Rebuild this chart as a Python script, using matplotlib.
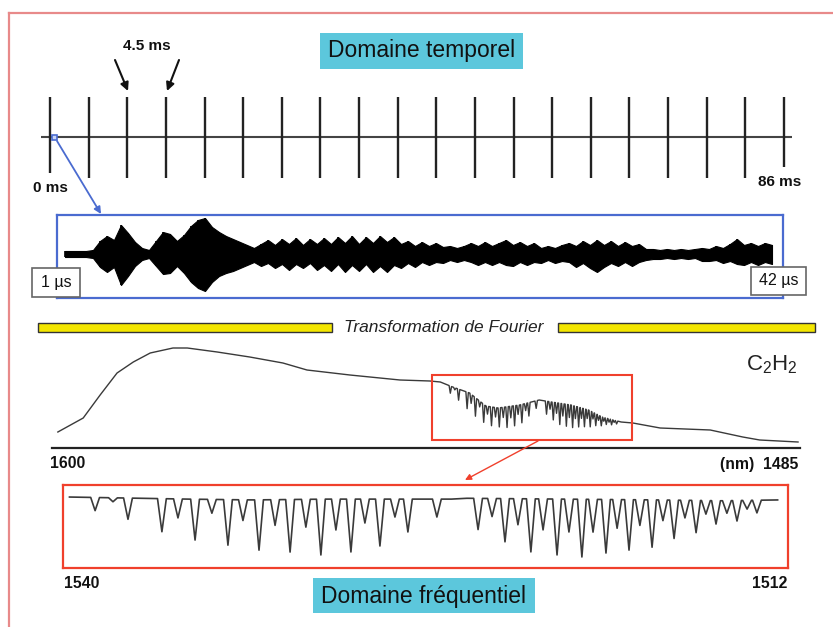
import numpy as np
import matplotlib
matplotlib.use("Agg")
import matplotlib.pyplot as plt
from matplotlib.patches import Rectangle

plt.rcParams['font.family'] = ['Liberation Sans', 'DejaVu Sans']
plt.rcParams['mathtext.fontset'] = 'custom'
plt.rcParams['mathtext.rm'] = 'Liberation Sans'
plt.rcParams['mathtext.it'] = 'Liberation Sans:italic'

# ---------------- data ----------------
pulse_times_ms = [0, 4.5, 9, 13.5, 18, 22.5, 27, 31.5, 36, 40.5,
                  45, 49.5, 54, 58.5, 63, 67.5, 72, 76.5, 81, 85.5]
pulse_period_label = "4.5 ms"
time_start_label = "0 ms"
time_end_label = "86 ms"

interf_t0_us, interf_t1_us = 1, 42
interf_top = [3, 3, 3, 3, 4, 13, 18, 14, 29, 21, 12, 6, 4, 13, 22, 20, 13, 19, 28, 34,
              36, 27, 22, 18, 15, 12, 9, 6, 10, 14, 9, 15, 10, 16, 9, 15, 10, 16, 10, 17,
              11, 18, 10, 17, 11, 18, 12, 17, 10, 13, 8, 12, 8, 11, 7, 8, 6, 8, 11, 8,
              12, 8, 11, 14, 9, 12, 8, 11, 6, 8, 6, 9, 11, 8, 13, 9, 14, 9, 13, 8,
              12, 8, 10, 5, 5, 4, 5, 4, 5, 4, 5, 6, 5, 8, 6, 10, 15, 9, 11, 8, 11, 9]
interf_bot = [3, 3, 3, 3, 4, 13, 18, 13, 31, 22, 12, 6, 4, 12, 20, 19, 12, 19, 28, 34,
              37, 28, 22, 19, 17, 14, 11, 8, 12, 9, 14, 10, 16, 10, 14, 9, 16, 11, 17, 10,
              18, 11, 17, 10, 18, 12, 18, 11, 14, 9, 13, 8, 11, 8, 9, 6, 8, 6, 8, 11,
              8, 11, 8, 11, 12, 8, 11, 8, 9, 6, 9, 7, 8, 13, 9, 14, 18, 13, 9, 12,
              8, 12, 8, 6, 5, 5, 4, 5, 4, 5, 4, 7, 7, 6, 9, 7, 10, 11, 8, 11, 8, 10]
interf_labels = ["1 µs", "42 µs"]

spec_wl_range = (1600, 1485)
base_wl = [1599.1, 1595.2, 1592.6, 1590.0, 1587.5, 1584.9, 1581.4, 1579.2, 1574.6,
           1569.6, 1564.5, 1560.8, 1554.2, 1546.5, 1541.9, 1540.3, 1538.4, 1535.8,
           1533.3, 1531.4, 1528.1, 1525.1, 1523.2, 1520.2, 1517.5, 1515.4, 1512.5,
           1510.7, 1506.5, 1498.8, 1493.8, 1491.2, 1485.3]
base_I = [0.16, 0.30, 0.53, 0.75, 0.86, 0.95, 1.00, 1.00, 0.96, 0.91, 0.85, 0.78, 0.73,
          0.68, 0.67, 0.66, 0.61, 0.55, 0.42, 0.40, 0.43, 0.48, 0.46, 0.43, 0.38, 0.31,
          0.26, 0.25, 0.20, 0.18, 0.11, 0.08, 0.06]

zoom_wl_range = (1540, 1512)
line_wl = [1538.76, 1538.07, 1537.49, 1536.18, 1535.56, 1534.90, 1534.25, 1533.63,
           1533.05, 1532.43, 1531.81, 1531.23, 1530.62, 1530.04, 1529.46, 1528.88,
           1528.34, 1527.76, 1527.18, 1526.68, 1525.56, 1523.97, 1523.43, 1522.93,
           1522.43, 1521.93, 1521.46, 1520.92, 1520.46, 1519.96, 1519.53, 1519.03,
           1518.60, 1518.14, 1517.72, 1517.25, 1516.83, 1516.40, 1515.98, 1515.55,
           1515.17, 1514.78, 1514.36, 1513.97, 1513.58, 1513.20]
line_I = [0.675, 0.783, 0.578, 0.434, 0.602, 0.337, 0.663, 0.277, 0.578, 0.217,
          0.518, 0.193, 0.494, 0.157, 0.458, 0.193, 0.542, 0.265, 0.614, 0.434,
          0.614, 0.458, 0.614, 0.313, 0.518, 0.193, 0.458, 0.157, 0.434, 0.133,
          0.434, 0.181, 0.482, 0.217, 0.518, 0.253, 0.578, 0.361, 0.614, 0.434,
          0.663, 0.542, 0.675, 0.578, 0.723, 0.675]
zoom_base_wl = [1539.75, 1537.0, 1535.2, 1532.7, 1529.8, 1527.0, 1525.0, 1524.4,
                1520.7, 1517.0, 1514.6, 1512.4]
zoom_base_I = [0.855, 0.84, 0.83, 0.82, 0.83, 0.83, 0.83, 0.84, 0.83, 0.82, 0.81, 0.82]

# ---------------- figure ----------------
W, H = 833, 627
fig = plt.figure(figsize=(W / 100, H / 100), dpi=100)
fig.patch.set_facecolor('white')


def px_axes(x0, y0, x1, y1):
    ax = fig.add_axes([x0 / W, 1 - y1 / H, (x1 - x0) / W, (y1 - y0) / H])
    ax.patch.set_visible(False)
    ax.set_xticks([])
    ax.set_yticks([])
    return ax


CYAN = '#5cc7dc'
BLUE = '#4a6bd0'
RED = '#f0402c'
INK = '#3a3a3a'

# pulse train
axp = px_axes(41, 96, 792, 178)
p0 = pulse_times_ms[0]
p1 = pulse_times_ms[-1]
scale = (784 - 50) / (p1 - p0)
axp.set_xlim(p0 - 9 / scale, p1 + 8 / scale)
axp.set_ylim(-1, 1)
for s in axp.spines.values():
    s.set_visible(False)
axp.axhline(0, color='#444444', lw=1.5)
lo = np.full(len(pulse_times_ms), -1.0)
lo[0] = -0.88
lo[-1] = -0.73
axp.vlines(pulse_times_ms, lo, 0.97, color='#222222', lw=1.7)

# interferogram
axi = px_axes(57, 215, 783, 298)
tt = np.linspace(interf_t0_us, interf_t1_us, len(interf_top))
us_px = (772 - 65) / (interf_t1_us - interf_t0_us)
axi.set_xlim(interf_t0_us - 8 / us_px, interf_t1_us + 11 / us_px)
axi.set_ylim(-44, 39)
axi.fill_between(tt, -np.array(interf_bot), interf_top, color='black', lw=0.8,
                 edgecolor='black')
axi.vlines(tt, -np.array(interf_bot), interf_top, color='black', lw=1.2)
for s in axi.spines.values():
    s.set_color(BLUE)
    s.set_linewidth(1.6)

# overview spectrum
axs = px_axes(52, 330, 800, 448)
axs.set_xlim(*spec_wl_range)
axs.set_ylim(0, 1.18)
for k in ['top', 'left', 'right']:
    axs.spines[k].set_visible(False)
axs.spines['bottom'].set_color('#222222')
axs.spines['bottom'].set_linewidth(1.6)


def build_curve(bw, bi, lw_, li, ref, hw, k):
    bw = np.array(bw)
    bi = np.array(bi)
    order = np.argsort(bw)
    bws, bis = bw[order], bi[order]
    pts = []
    lines = np.array(lw_)
    for w, v in zip(bw, bi):
        if np.all(np.abs(lines - w) > hw):
            pts.append((w, v))
    for w, d in zip(lw_, li):
        b = np.interp(w, bws, bis)
        frac = (ref - d) / ref
        pts.append((w + hw, np.interp(w + hw, bws, bis)))
        pts.append((w, b * (1 - k * frac)))
        pts.append((w - hw, np.interp(w - hw, bws, bis)))
    pts.sort(key=lambda p: -p[0])
    return np.array(pts)


ov = build_curve(base_wl, base_I, line_wl, line_I, 0.83, 0.19, 0.62)
axs.plot(ov[:, 0], ov[:, 1], color=INK, lw=1.0)

# zoomed spectrum
axz = px_axes(63, 485, 788, 568)
axz.set_xlim(*zoom_wl_range)
axz.set_ylim(0, 1)
for s in axz.spines.values():
    s.set_color(RED)
    s.set_linewidth(1.6)
zc = build_curve(zoom_base_wl, zoom_base_I, line_wl, line_I, 0.83, 0.17, 1.0)
axz.plot(zc[:, 0], zc[:, 1], color=INK, lw=1.2)

# ---------------- overlay (pixel coordinates) ----------------
ax0 = fig.add_axes([0, 0, 1, 1])
ax0.set_xlim(0, W)
ax0.set_ylim(H, 0)
ax0.axis('off')
ax0.patch.set_visible(False)
ax0.set_zorder(10)

# page frame
ax0.plot([9, W], [13, 13], color='#e88a8a', lw=1.6)
ax0.plot([9, 9], [13, H], color='#e88a8a', lw=1.6)

# titles
ax0.add_patch(Rectangle((320, 33), 203, 36, fc=CYAN, ec='none'))
ax0.text(421.5, 51, "Domaine temporel", fontsize=16.5, ha='center', va='center',
         color='#111111')
ax0.add_patch(Rectangle((313, 578), 222, 35, fc=CYAN, ec='none'))
ax0.text(424, 596, "Domaine fréquentiel", fontsize=16.5, ha='center', va='center',
         color='#111111')

# pulse annotations
ax0.text(147, 46, pulse_period_label, fontsize=11, fontweight='bold', ha='center',
         va='center', color='#111111')
ap = dict(arrowstyle='-|>', color='#111111', lw=1.5, mutation_scale=12,
          shrinkA=0, shrinkB=0)
ax0.annotate('', xy=(128, 91), xytext=(115, 60), arrowprops=ap)
ax0.annotate('', xy=(167, 91), xytext=(179, 60), arrowprops=ap)
ax0.text(50, 188, time_start_label, fontsize=11, fontweight='bold', ha='center',
         va='center', color='#111111')
ax0.text(780, 182, time_end_label, fontsize=11, fontweight='bold', ha='center',
         va='center', color='#111111')

# blue zoom marker
ax0.add_patch(Rectangle((52, 135), 5, 5, fc='#c8d4f4', ec=BLUE, lw=1.2))
ax0.annotate('', xy=(101, 214), xytext=(57, 141),
             arrowprops=dict(arrowstyle='-|>', color=BLUE, lw=1.3, mutation_scale=10,
                             shrinkA=0, shrinkB=0))

# time labels boxes
ax0.add_patch(Rectangle((32, 268), 48, 29, fc='white', ec='#666666', lw=1.2))
ax0.text(56, 282.5, interf_labels[0], fontsize=11.5, ha='center', va='center',
         color='#111111')
ax0.add_patch(Rectangle((751, 267), 55, 28, fc='white', ec='#666666', lw=1.2))
ax0.text(778.5, 281, interf_labels[1], fontsize=11.5, ha='center', va='center',
         color='#111111')

# Fourier bars
ax0.add_patch(Rectangle((38, 323), 294, 9, fc='#f3e600', ec='#333333', lw=1.0))
ax0.add_patch(Rectangle((558, 323), 257, 9, fc='#f3e600', ec='#333333', lw=1.0))
ax0.text(444, 327, "Transformation de Fourier", fontsize=12.5, style='italic',
         ha='center', va='center', color='#222222')

# spectrum labels
ax0.text(772, 365, r"C$_{\mathrm{2}}$H$_{\mathrm{2}}$", fontsize=16, ha='center',
         va='center', color='#222222')
ax0.text(50, 464, f"{spec_wl_range[0]}", fontsize=11.3, fontweight='bold',
         ha='left', va='center', color='#111111')
ax0.text(798, 464, f"(nm)  {spec_wl_range[1]}", fontsize=11.3, fontweight='bold',
         ha='right', va='center', color='#111111')
ax0.text(64, 584, f"{zoom_wl_range[0]}", fontsize=11.3, fontweight='bold',
         ha='left', va='center', color='#111111')
ax0.text(787, 584, f"{zoom_wl_range[1]}", fontsize=11.3, fontweight='bold',
         ha='right', va='center', color='#111111')

# red box on overview + arrow
ax0.add_patch(Rectangle((432, 375), 200, 65, fc='none', ec=RED, lw=1.5))
ax0.annotate('', xy=(465, 480), xytext=(538, 441),
             arrowprops=dict(arrowstyle='-|>', color=RED, lw=1.0, mutation_scale=9,
                             shrinkA=0, shrinkB=0))

fig.savefig("out.png", dpi=100)
